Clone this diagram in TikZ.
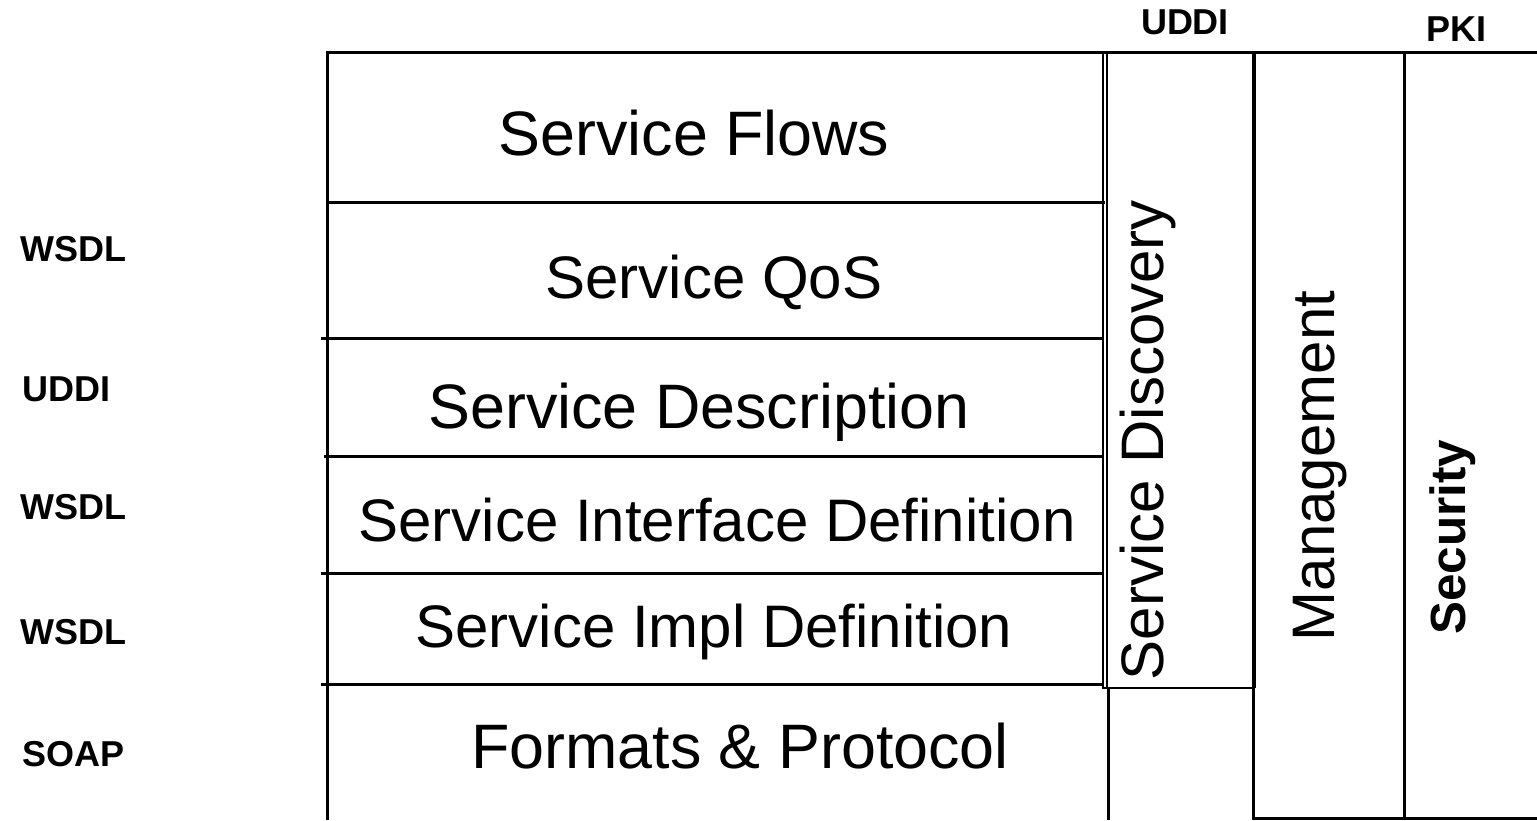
\documentclass[tikz,border=0pt]{standalone}
\usepackage{fontspec}
\setmainfont{Liberation Sans}
\begin{document}
\begin{tikzpicture}[x=0.5pt,y=-0.5pt,
  frame/.style={line width=1.5pt},
  thinframe/.style={line width=1.1pt},
  heavyframe/.style={line width=2pt},
  layer/.style={font=\fontsize{30}{36}\selectfont, anchor=base, inner sep=0pt},
  biglayer/.style={layer, font=\fontsize{31.4}{37}\selectfont},
  side/.style={font=\fontsize{30}{36}\selectfont, anchor=base, inner sep=0pt, rotate=90},
  tag/.style={font=\bfseries\fontsize{18}{22}\selectfont, anchor=base west, inner sep=0pt},
  toptag/.style={font=\bfseries\fontsize{18}{22}\selectfont, anchor=base, inner sep=0pt}]
\useasboundingbox (0,0) rectangle (1537,820);

% stack outline and the layer separators
\draw[frame] (327,820) -- (327,52) -- (1537,52);
\draw[frame] (329,202) -- (1105,202);
\draw[frame] (321,338) -- (1103,338);
\draw[frame] (324,456) -- (1103,456);
\draw[frame] (321,573) -- (1103,573);
\draw[frame] (321,684) -- (1103,684);
\draw[frame] (1108,688) -- (1108,820);

% discovery column with its double left edge
\draw[thinframe] (1103,52) -- (1103,688) -- (1254,688);
\draw[thinframe] (1107,52) -- (1107,688);
\draw[heavyframe] (1254,52) -- (1254,688);

% management and security columns
\draw[frame] (1253,688) -- (1253,818) -- (1537,818);
\draw[frame] (1404,52) -- (1404,818);

% layer names
\node[biglayer] (flows) at (694,155) {Service Flows};
\node[layer] (qos) at (714,298) {Service QoS};
\node[biglayer] (desc) at (699,428) {Service Description};
\node[layer] (iface) at (717,541) {Service Interface Definition};
\node[layer] (impl) at (714,647) {Service Impl Definition};
\node[biglayer] (formats) at (740,768) {Formats \& Protocol};

% vertical column names
\node[side] (disc) at (1163,440) {Service Discovery};
\node[side] (mgmt) at (1334,466) {Management};
\node[side, font=\bfseries\fontsize{24.7}{30}\selectfont] (sec) at (1465,537) {Security};

% technology tags
\node[tag] (t1) at (20,261) {WSDL};
\node[tag] (t2) at (22,401) {UDDI};
\node[tag] (t3) at (20,519) {WSDL};
\node[tag] (t4) at (20,644) {WSDL};
\node[tag] (t5) at (22,766) {SOAP};
\node[toptag] (t6) at (1185,34) {UDDI};
\node[toptag] (t7) at (1456,41) {PKI};
\end{tikzpicture}
\end{document}
